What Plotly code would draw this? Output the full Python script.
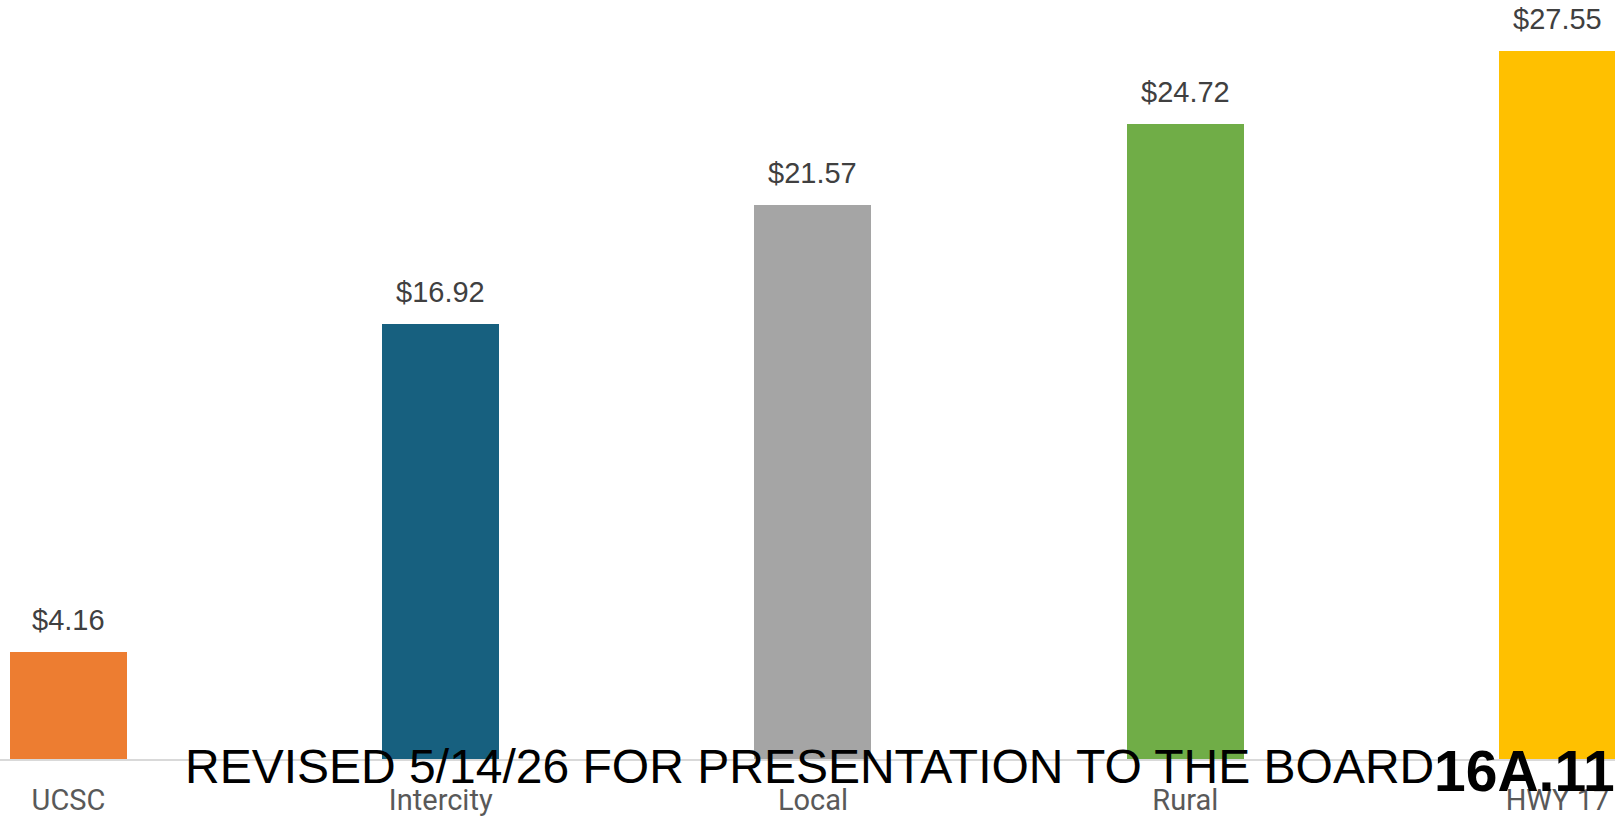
import plotly.graph_objects as go

# Average cost per passenger trip by service type
categories = ["UCSC", "Intercity", "Local", "Rural", "HWY 17"]
cost_per_trip = [4.16, 16.92, 21.57, 24.72, 27.55]
bar_colors = ["#ED7D31", "#17607F", "#A5A5A5", "#70AD47", "#FFC000"]

W, H = 1615, 817

fig = go.Figure()
fig.add_trace(
    go.Bar(
        x=categories,
        y=cost_per_trip,
        marker=dict(color=bar_colors, line=dict(width=0)),
        width=0.3143,
        hoverinfo="skip",
    )
)

# Dollar value labels above each bar
for cat, val in zip(categories, cost_per_trip):
    fig.add_annotation(
        x=cat, y=val, xref="x", yref="y",
        text=f"${val:.2f}",
        showarrow=False,
        yanchor="middle", yshift=32,
        font=dict(family="Liberation Sans, Arial, sans-serif", size=29, color="#404040"),
    )

# Revision stamp and item number
fig.add_annotation(
    x=183 / W, y=0, xref="paper", yref="paper",
    text="REVISED 5/14/26 FOR PRESENTATION TO THE BOARD",
    showarrow=False, xanchor="left", yanchor="middle", yshift=-7,
    font=dict(family="Liberation Sans, Arial, sans-serif", size=48, color="#000000"),
)
fig.add_annotation(
    x=1432 / W, y=0, xref="paper", yref="paper",
    text="<b>16A.11</b>",
    showarrow=False, xanchor="left", yanchor="middle", yshift=-12,
    font=dict(family="Liberation Sans, Arial, sans-serif", size=57, color="#000000"),
)

fig.update_layout(
    width=W, height=H,
    margin=dict(l=0, r=0, t=0, b=56, pad=0),
    paper_bgcolor="#FFFFFF",
    plot_bgcolor="#FFFFFF",
    showlegend=False,
    hovermode=False,
    bargap=0,
)
fig.update_xaxes(
    type="category",
    range=[-0.184, 4.1545],
    showline=True, linecolor="#D9D9D9", linewidth=2,
    showgrid=False, zeroline=False,
    ticks="", ticklabelstandoff=14,
    tickfont=dict(family="Roboto, Liberation Sans, sans-serif", size=29, color="#595959"),
)
fig.update_yaxes(
    range=[0, 29.54],
    visible=False, showgrid=False, zeroline=False,
)

fig.write_html("out.html", config={"displayModeBar": False})
